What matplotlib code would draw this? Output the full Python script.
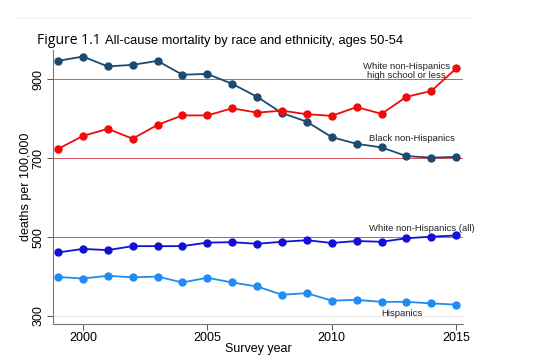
import matplotlib.pyplot as plt

years = list(range(1999, 2016))

# deaths per 100,000, ages 50-54
white_hs = [723, 756, 774, 749, 784, 808, 808, 826, 815, 820, 811, 807, 829, 812, 855, 870, 927]
black = [946, 957, 932, 936, 946, 911, 913, 888, 855, 814, 792, 753, 736, 727, 705, 701, 703]
white_all = [461, 470, 467, 477, 477, 477, 486, 487, 483, 488, 492, 485, 490, 488, 497, 501, 504]
hispanic = [399, 395, 402, 398, 400, 385, 397, 385, 375, 354, 358, 339, 341, 336, 336, 332, 329]

yticks = [300, 500, 700, 900]
xticks = [2000, 2005, 2010, 2015]

plt.rcParams['font.family'] = ['Liberation Sans', 'DejaVu Sans']

fig = plt.figure(figsize=(5.38, 3.56), dpi=100)
ax = fig.add_axes([0.098, 0.09, 0.763, 0.77])

# reference lines
for v in [500, 700, 900]:
    ax.axhline(v, color='#d9545e', lw=0.7, zorder=1)
ax.axhline(300, color='#e6e6e6', lw=0.7, zorder=1)

ax.plot(years, black, color='#1c4a70', marker='o', ms=5, lw=1.3, zorder=3)
ax.plot(years, white_hs, color='#f00a0a', marker='o', ms=5, lw=1.3, zorder=4)
ax.plot(years, white_all, color='#1010d8', marker='o', ms=5, lw=1.3, zorder=3)
ax.plot(years, hispanic, color='#1e8cf0', marker='o', ms=5, lw=1.3, zorder=3)

lab = dict(fontsize=6.8, color='#222222', ha='center', va='center')
ax.text(2013.0, 920, 'White non-Hispanics\nhigh school or less', linespacing=1.0, **lab)
ax.text(2013.2, 749, 'Black non-Hispanics', **lab)
ax.text(2013.6, 521, 'White non-Hispanics (all)', **lab)
ax.text(2012.8, 307, 'Hispanics', **lab)

ax.set_xlim(1998.79, 2015.28)
ax.set_ylim(280, 974)
ax.set_xticks(xticks)
ax.set_yticks(yticks)
ax.set_yticklabels([str(t) for t in yticks], rotation=90, va='center')
ax.tick_params(labelsize=9, length=4, width=0.7, color='#555555')
ax.tick_params(axis='x', pad=2)
ax.tick_params(axis='y', pad=2)
for s in ['top', 'right']:
    ax.spines[s].set_visible(False)
for s in ['left', 'bottom']:
    ax.spines[s].set_color('#777777')
    ax.spines[s].set_linewidth(0.8)

ax.set_xlabel('Survey year', fontsize=9, labelpad=-1)
ax.set_ylabel('deaths per 100,000', fontsize=9, labelpad=0)

fig.text(0.068, 0.875, 'Figure 1.1', fontsize=10, family=['Open Sans', 'DejaVu Sans'])
fig.text(0.196, 0.876, 'All-cause mortality by race and ethnicity, ages 50-54', fontsize=9.3)

# faint frame line at the top
fig.add_artist(plt.Line2D([0.03, 0.88], [0.95, 0.95], color='#f0f0f0', lw=0.8))

fig.savefig('out.png', dpi=100)
